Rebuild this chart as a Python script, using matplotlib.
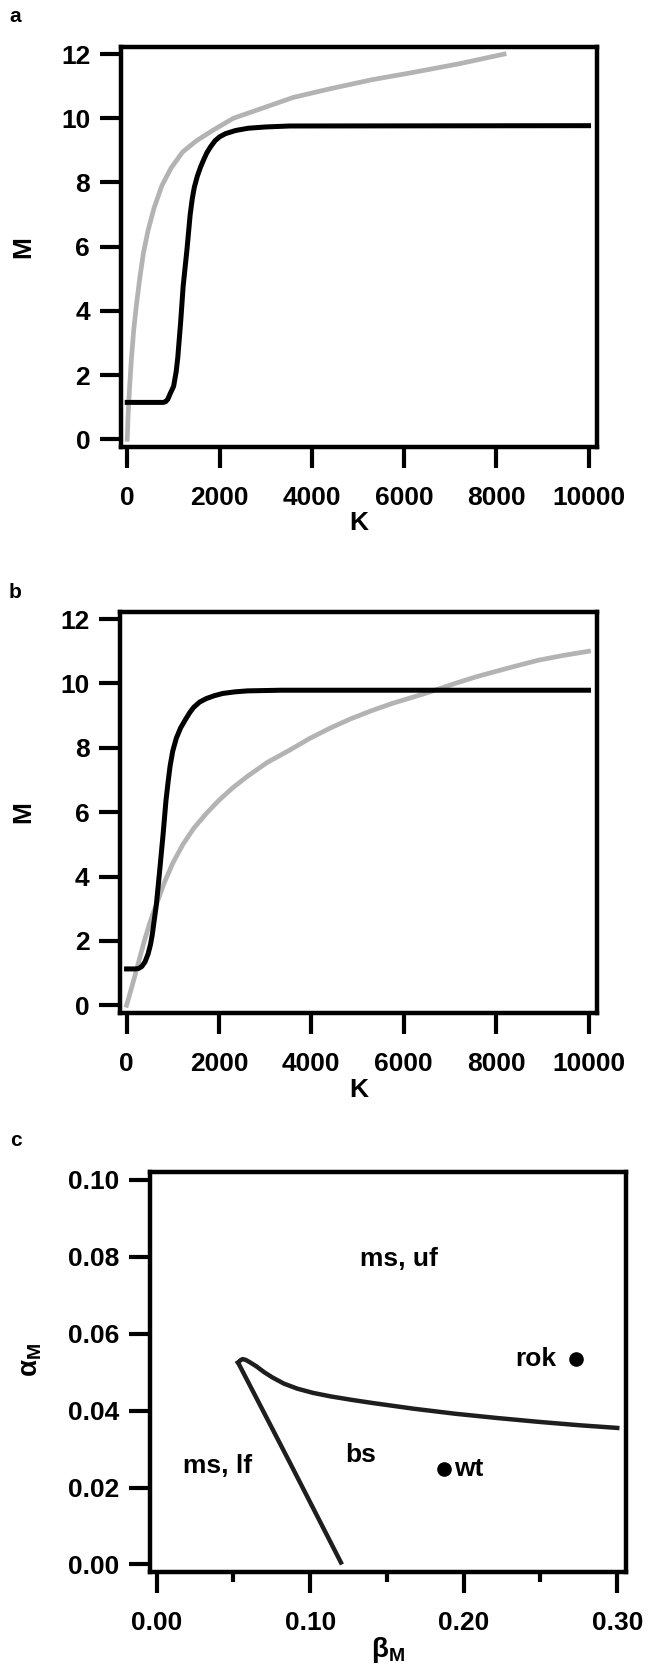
import matplotlib
matplotlib.use("Agg")
import matplotlib.pyplot as plt
from matplotlib.ticker import MultipleLocator

# ---------------- data ----------------
# panel a
a_black_K = [0, 400, 780, 830, 880, 930, 1005, 1060, 1095, 1158, 1212, 1293, 1364, 1410, 1454, 1520,
             1589, 1660, 1724, 1800, 1903, 2000, 2127, 2350, 2621, 3000, 3519, 10000]
a_black_M = [1.15, 1.15, 1.15, 1.17, 1.25, 1.42, 1.65, 2.1, 2.54, 3.66, 4.77, 5.89, 7.0, 7.5, 7.85, 8.2,
             8.48, 8.72, 8.92, 9.1, 9.3, 9.42, 9.52, 9.62, 9.69, 9.73, 9.76, 9.77]
a_gray_K = [0, 20, 50, 90, 140, 200, 270, 350, 450, 580, 750, 950, 1200, 1500, 1850, 2300, 2900, 3600,
            4400, 5300, 6200, 7200, 8169]
a_gray_M = [0, 0.8, 1.6, 2.5, 3.4, 4.2, 5.0, 5.8, 6.5, 7.2, 7.9, 8.45, 8.95, 9.3, 9.62, 10.0, 10.3, 10.65,
            10.92, 11.2, 11.43, 11.7, 12.0]

# panel b
b_black_K = [0, 200, 270, 332, 400, 467, 520, 557, 600, 646, 718, 790, 853, 900, 943, 1000, 1077, 1170,
             1275, 1370, 1454, 1580, 1724, 1900, 2083, 2350, 2621, 3339, 10000]
b_black_M = [1.13, 1.13, 1.15, 1.21, 1.35, 1.6, 1.9, 2.2, 2.65, 3.14, 4.2, 5.3, 6.36, 6.95, 7.44, 7.9, 8.3,
             8.62, 8.88, 9.1, 9.26, 9.42, 9.53, 9.62, 9.69, 9.74, 9.77, 9.79, 9.79]
b_gray_K = [0, 100, 197, 290, 377, 500, 646, 820, 1005, 1220, 1454, 1720, 1993, 2300, 2621, 3050, 3519,
            3950, 4417, 4850, 5314, 5750, 6212, 6571, 7110, 7550, 8007, 8450, 8905, 9450, 10000]
b_gray_M = [0, 0.5, 1.0, 1.5, 1.96, 2.55, 3.14, 3.82, 4.43, 5.0, 5.5, 5.95, 6.36, 6.76, 7.12, 7.55, 7.92,
            8.28, 8.62, 8.9, 9.16, 9.38, 9.58, 9.74, 10.0, 10.2, 10.38, 10.55, 10.72, 10.87, 11.0]

# panel c
c_line1_beta = [0.0530, 0.0867, 0.1200]
c_line1_alpha = [0.0525, 0.0265, 0.0005]
c_line2_beta = [0.0530, 0.0545, 0.0560, 0.0580, 0.0610, 0.0650, 0.0700, 0.0755, 0.0830, 0.0917, 0.1020,
                0.1133, 0.1270, 0.1403, 0.1673, 0.1942, 0.2212, 0.2482, 0.2752, 0.3000]
c_line2_alpha = [0.0525, 0.0531, 0.0534, 0.0532, 0.0525, 0.0515, 0.0500, 0.0486, 0.0470, 0.0457, 0.0446,
                 0.0437, 0.0428, 0.0420, 0.0405, 0.0392, 0.0381, 0.0371, 0.0362, 0.0355]
c_points_beta = [0.2733, 0.187]
c_points_alpha = [0.0535, 0.0249]
c_region_labels = ["ms, uf", "ms, lf", "bs"]
c_region_beta = [0.1578, 0.0394, 0.1326]
c_region_alpha = [0.0794, 0.0257, 0.0284]
c_point_labels = ["rok", "wt"]
c_point_label_beta = [0.2472, 0.2033]
c_point_label_alpha = [0.0535, 0.0249]

K_ticks = [0, 2000, 4000, 6000, 8000, 10000]
M_ticks = [0, 2, 4, 6, 8, 10, 12]
beta_ticks = [0.00, 0.10, 0.20, 0.30]
alpha_ticks = [0.00, 0.02, 0.04, 0.06, 0.08, 0.10]

# ---------------- style ----------------
plt.rcParams['font.family'] = ['Liberation Sans', 'DejaVu Sans']
plt.rcParams['font.weight'] = 'bold'
plt.rcParams['mathtext.fontset'] = 'custom'
plt.rcParams['mathtext.rm'] = 'Liberation Sans:bold'
plt.rcParams['mathtext.it'] = 'Liberation Sans:bold'
plt.rcParams['mathtext.bf'] = 'Liberation Sans:bold'
plt.rcParams['mathtext.default'] = 'rm'

FS = 19
W, H = 648, 1664
fig = plt.figure(figsize=(W / 100, H / 100), dpi=100)


def px_axes(left, top, right, bottom):
    return fig.add_axes([left / W, 1 - bottom / H, (right - left) / W, (bottom - top) / H])


def style(ax):
    for s in ax.spines.values():
        s.set_linewidth(3.2)
        s.set_color('black')
    ax.tick_params(axis='both', which='major', direction='out', length=15, width=3,
                   labelsize=FS, color='black')
    ax.tick_params(axis='y', which='major', pad=7)
    ax.tick_params(axis='x', which='major', pad=13)
    for lab in ax.get_xticklabels() + ax.get_yticklabels():
        lab.set_fontweight('bold')


GRAY = '#b3b3b3'

# panel a
axa = px_axes(120.7, 46.7, 596.7, 446.7)
axa.plot(a_gray_K, a_gray_M, color=GRAY, lw=3.4, solid_joinstyle='round')
axa.plot(a_black_K, a_black_M, color='black', lw=3.6, solid_joinstyle='round')
axa.set_xlim(-142, 10177)
axa.set_ylim(-0.23, 12.23)
axa.set_xticks(K_ticks)
axa.set_yticks(M_ticks)
style(axa)
axa.set_xlabel('K', fontsize=FS, fontweight='bold', va='center')
axa.xaxis.set_label_coords(0.5, (446.7 - 523) / 400)
axa.set_ylabel('M', fontsize=FS, fontweight='bold', va='center')
axa.yaxis.set_label_coords((23 - 120.7) / 476, 0.5)

# panel b
axb = px_axes(120.0, 611.7, 596.7, 1012.7)
axb.plot(b_gray_K, b_gray_M, color=GRAY, lw=3.4, solid_joinstyle='round')
axb.plot(b_black_K, b_black_M, color='black', lw=3.6, solid_joinstyle='round')
axb.set_xlim(-142, 10177)
axb.set_ylim(-0.23, 12.23)
axb.set_xticks(K_ticks)
axb.set_yticks(M_ticks)
style(axb)
axb.set_xlabel('K', fontsize=FS, fontweight='bold', va='center')
axb.xaxis.set_label_coords(0.5, (1012.7 - 1090) / 401)
axb.set_ylabel('M', fontsize=FS, fontweight='bold', va='center')
axb.yaxis.set_label_coords((23 - 120.0) / 476.7, 0.5)

# panel c
axc = px_axes(150.0, 1171.7, 625.7, 1571.7)
axc.plot(c_line1_beta, c_line1_alpha, color='#1e1e1e', lw=3.2, solid_joinstyle='round')
axc.plot(c_line2_beta, c_line2_alpha, color='#1e1e1e', lw=3.2, solid_joinstyle='round')
axc.plot(c_points_beta, c_points_alpha, 'o', color='black', ms=9.5)
for t, x, y in zip(c_region_labels, c_region_beta, c_region_alpha):
    axc.text(x, y, t, fontsize=FS, fontweight='bold', ha='center', va='center')
for t, x, y in zip(c_point_labels, c_point_label_beta, c_point_label_alpha):
    axc.text(x, y, t, fontsize=FS, fontweight='bold', ha='center', va='center')
axc.set_xlim(-0.00437, 0.3055)
axc.set_ylim(-0.0019, 0.10215)
axc.set_xticks(beta_ticks)
axc.set_xticklabels(['%.2f' % v for v in beta_ticks])
axc.set_yticks(alpha_ticks)
axc.set_yticklabels(['%.2f' % v for v in alpha_ticks])
axc.xaxis.set_minor_locator(MultipleLocator(0.05))
style(axc)
axc.tick_params(axis='x', which='minor', direction='out', length=7, width=3, color='black')
axc.set_xlabel(r'$β_M$', fontsize=FS + 1, va='center')
axc.xaxis.set_label_coords(0.5, (1571.7 - 1650) / 400)
axc.set_ylabel(r'$α_M$', fontsize=FS + 1, va='center')
axc.yaxis.set_label_coords((31 - 150) / 475.7, 0.53)

# panel letters
for letter, (x, y) in zip(['a', 'b', 'c'], [(15, 17), (15, 592), (16, 1140)]):
    fig.text(x / W, 1 - y / H, letter, fontsize=15, fontweight='bold', ha='center', va='center')

fig.savefig('out.png', dpi=100)
